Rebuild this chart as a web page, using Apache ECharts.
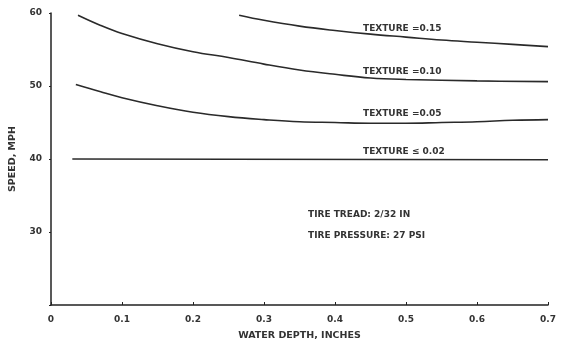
<!DOCTYPE html>
<html>
<head>
<meta charset="utf-8">
<script src="https://cdn.jsdelivr.net/npm/echarts@6/dist/echarts.min.js"></script>
<style>
  html, body { margin: 0; padding: 0; background: #fff; }
  #chart { width: 563px; height: 346px; }
</style>
</head>
<body>
<div id="chart"></div>
<script>
// x ticks, water depth (in)
const xTicks = [0, 0.1, 0.2, 0.3, 0.4, 0.5, 0.6, 0.7];
const yTicks = [30, 40, 50, 60];

// curves: [depth, speed]
const texture015 = [[0.265, 59.7], [0.3, 59.0], [0.35, 58.2], [0.4, 57.6], [0.45, 57.1], [0.5, 56.7], [0.55, 56.3], [0.6, 56.0], [0.65, 55.7], [0.7, 55.4]];
const texture010 = [[0.038, 59.7], [0.07, 58.3], [0.1, 57.2], [0.15, 55.8], [0.2, 54.7], [0.25, 53.9], [0.3, 53.0], [0.35, 52.2], [0.4, 51.6], [0.45, 51.1], [0.5, 50.9], [0.6, 50.7], [0.7, 50.6]];
const texture005 = [[0.035, 50.2], [0.07, 49.2], [0.1, 48.4], [0.15, 47.3], [0.2, 46.4], [0.25, 45.8], [0.3, 45.4], [0.35, 45.1], [0.4, 45.0], [0.45, 44.9], [0.5, 44.9], [0.55, 45.0], [0.6, 45.1], [0.65, 45.3], [0.7, 45.4]];
const texture002 = [[0.03, 40.0], [0.7, 39.9]];

const labels = ['TEXTURE =0.15', 'TEXTURE =0.10', 'TEXTURE =0.05', 'TEXTURE \u2264 0.02'];

const font = 'DejaVu Sans';
const ink = '#333';

const chart = echarts.init(document.getElementById('chart'));

function curve(data) {
  return {
    type: 'line',
    data: data,
    smooth: 0.4,
    symbol: 'none',
    lineStyle: { color: '#2a2a2a', width: 1.6 }
  };
}

function note(text, left, top) {
  return {
    type: 'text',
    left: left,
    top: top,
    style: { text: text, font: 'bold 9px "' + font + '"', fill: ink }
  };
}

chart.setOption({
  animation: false,
  grid: { left: 49, right: 15, top: 13, bottom: 40 },
  xAxis: {
    type: 'value',
    min: 0,
    max: 0.7,
    interval: 0.1,
    name: 'WATER DEPTH, INCHES',
    nameLocation: 'middle',
    nameGap: 26,
    nameTextStyle: { fontFamily: font, fontSize: 9.5, fontWeight: 'bold', color: ink },
    axisLine: { lineStyle: { color: '#222', width: 1.5 } },
    axisTick: { show: true, inside: true, length: 3, lineStyle: { color: '#222' } },
    axisLabel: {
      fontFamily: font, fontSize: 9, color: ink, margin: 10, fontWeight: 'bold',
      formatter: v => {
        const t = xTicks.find(k => Math.abs(k - v) < 1e-6);
        return t === undefined ? '' : (t === 0 ? '0' : t.toFixed(1));
      }
    },
    splitLine: { show: false }
  },
  yAxis: {
    type: 'value',
    min: 20,
    max: 60,
    interval: 10,
    name: 'SPEED, MPH',
    nameLocation: 'middle',
    nameGap: 33,
    nameTextStyle: { fontFamily: font, fontSize: 9.5, fontWeight: 'bold', color: ink },
    axisLine: { show: true, lineStyle: { color: '#222', width: 1.5 } },
    axisTick: { show: true, length: 2, lineStyle: { color: '#222' } },
    axisLabel: {
      fontFamily: font, fontSize: 9, color: ink, margin: 9, fontWeight: 'bold',
      formatter: v => yTicks.includes(v) ? String(v) : ''
    },
    splitLine: { show: false }
  },
  series: [curve(texture015), curve(texture010), curve(texture005), curve(texture002)],
  graphic: [
    note(labels[0], 363, 24),
    note(labels[1], 363, 67),
    note(labels[2], 363, 109),
    note(labels[3], 363, 147),
    note('TIRE TREAD: 2/32 IN', 308, 210),
    note('TIRE PRESSURE: 27 PSI', 308, 231)
  ]
});

window.addEventListener('resize', function () {
  chart.resize();
});
</script>
</body>
</html>
